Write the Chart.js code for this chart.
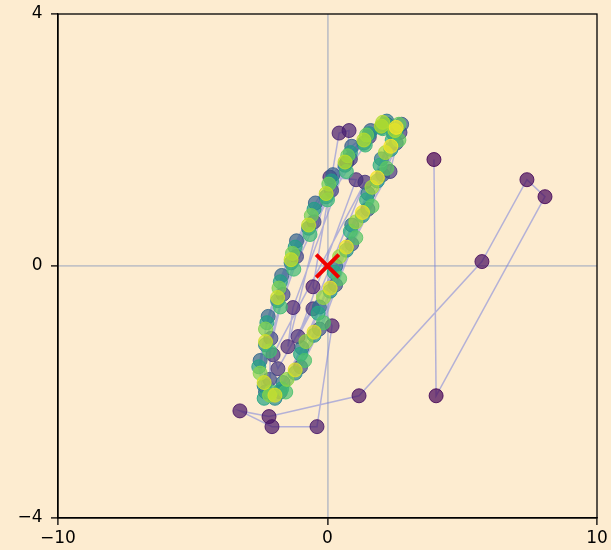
<!DOCTYPE html>
<html>
<head>
<meta charset="utf-8">
<script src="https://cdn.jsdelivr.net/npm/chart.js@4.4.0/dist/chart.umd.min.js"></script>
<style>
  html, body { margin: 0; padding: 0; background: #fdecd0; }
  #wrap { width: 611px; height: 550px; }
</style>
</head>
<body>
<div id="wrap"><canvas id="phaseChart"></canvas></div>
<script>
// first samples, before the orbit settles
const transientX = [3.95, 4.03, 8.07, 7.40, 5.73, 1.17, -2.17, -3.25, -2.06, -0.39, 0.17, -0.54, 0.43,
    0.80, 0.72, -1.28, -1.47, 0.09, 1.06, -1.09, -0.54, 1.39, -2.02, -1.84, 2.32, 2.69];
const transientY = [1.69, -2.06, 1.10, 1.37, 0.07, -2.06, -2.39, -2.30, -2.55, -2.55, -0.95, -0.33, 2.11,
    2.15, 1.65, -0.66, -1.28, 1.41, 1.37, -1.12, -0.68, 1.33, -1.41, -1.63, 1.50, 2.12];

// later samples, going round the closed orbit
const cycleX = [
    2.2, 1.55, 0.85, 0.15, -0.5, -1.15, -1.65, -2.1, -2.15, -1.75, -1.0, -0.3, 0.3, 0.9, 1.5, 2.05, 2.55, 2.75,
    1.6, 0.9, 0.2, -0.45, -1.15, -1.7, -2.2, -2.5, -2.3, -1.65, -0.95, -0.3, 0.3, 0.9, 1.5, 2.0, 2.45, 2.2,
    2.0, 1.35, 0.65, -0.05, -0.7, -1.35, -1.85, -2.3, -2.35, -1.95, -1.2, -0.5, 0.1, 0.7, 1.3, 1.85, 2.35, 2.55,
    1.55, 0.85, 0.15, -0.5, -1.2, -1.75, -2.25, -2.55, -2.35, -1.7, -1.0, -0.35, 0.25, 0.85, 1.45, 1.95, 2.4, 2.15,
    2.05, 1.4, 0.7, 0.0, -0.65, -1.25, -1.75, -2.15, -2.1, -1.55, -0.85, -0.15, 0.45, 1.05, 1.65, 2.2, 2.65, 2.65,
    1.45, 0.75, 0.05, -0.6, -1.3, -1.8, -2.3, -2.5, -2.15, -1.5, -0.8, -0.15, 0.45, 1.05, 1.65, 2.15, 2.5, 2.05,
    2.0, 1.35, 0.65, -0.05, -0.7, -1.35, -1.85, -2.3, -2.35, -1.95, -1.2, -0.5, 0.1, 0.7, 1.3, 1.85, 2.35, 2.55
];
const cycleY = [
    2.25, 2.05, 1.7, 1.2, 0.7, 0.15, -0.45, -1.15, -1.8, -2.0, -1.6, -1.0, -0.3, 0.35, 0.9, 1.45, 1.95, 2.25,
    2.15, 1.9, 1.45, 1.0, 0.4, -0.15, -0.8, -1.5, -2.0, -1.85, -1.3, -0.65, 0.0, 0.65, 1.15, 1.7, 2.1, 2.3,
    2.2, 1.95, 1.6, 1.1, 0.6, 0.05, -0.55, -1.25, -1.9, -2.1, -1.7, -1.1, -0.4, 0.25, 0.8, 1.35, 1.85, 2.15,
    2.1, 1.8, 1.35, 0.9, 0.3, -0.25, -0.9, -1.6, -2.1, -1.95, -1.4, -0.75, -0.1, 0.55, 1.05, 1.6, 2.0, 2.25,
    2.18, 1.92, 1.5, 1.05, 0.5, -0.05, -0.65, -1.35, -2.0, -2.0, -1.5, -0.9, -0.2, 0.45, 0.95, 1.55, 2.0, 2.25,
    2.08, 1.75, 1.3, 0.8, 0.2, -0.35, -1.0, -1.7, -2.05, -1.8, -1.2, -0.5, 0.15, 0.7, 1.25, 1.8, 2.15, 2.28,
    2.22, 2.0, 1.65, 1.15, 0.65, 0.1, -0.5, -1.2, -1.85, -2.05, -1.65, -1.05, -0.35, 0.3, 0.85, 1.4, 1.9, 2.2
];

// fixed point marked with the red cross
const markerX = [0];
const markerY = [0];

const xTicks = [-10, 0, 10];
const yTicks = [-4, 0, 4];

const bgColor = '#fdecd0';
const gridColor = 'rgba(195, 195, 198, 1)';

// viridis stops for colouring samples by time
const viridis = ['#440154', '#482475', '#414487', '#355f8d', '#2a788e', '#21918c',
    '#22a884', '#44bf70', '#7ad151', '#bddf26', '#fde725'];

function hexToRgb(h) {
    return [parseInt(h.substr(1, 2), 16), parseInt(h.substr(3, 2), 16), parseInt(h.substr(5, 2), 16)];
}

function viridisAt(t, alpha) {
    const pos = Math.min(Math.max(t, 0), 1) * (viridis.length - 1);
    const i = Math.min(Math.floor(pos), viridis.length - 2);
    const f = pos - i;
    const a = hexToRgb(viridis[i]), b = hexToRgb(viridis[i + 1]);
    const c = a.map((v, k) => Math.round(v + (b[k] - v) * f));
    return `rgba(${c[0]}, ${c[1]}, ${c[2]}, ${alpha})`;
}

const allX = transientX.concat(cycleX);
const allY = transientY.concat(cycleY);
const samples = allX.map((x, i) => ({ x: x, y: allY[i] }));
const n = samples.length;
const fillColors = samples.map((p, i) => viridisAt(i / (n - 1), 0.7));
const edgeColors = samples.map((p, i) => viridisAt(i / (n - 1), 0.85));

const canvasBg = {
    id: 'canvasBg',
    beforeDraw(chart) {
        const ctx = chart.ctx;
        ctx.save();
        ctx.fillStyle = bgColor;
        ctx.fillRect(0, 0, chart.width, chart.height);
        ctx.restore();
    }
};

// matplotlib-style box: top and right spines too
const frameBox = {
    id: 'frameBox',
    afterDraw(chart) {
        const { ctx, chartArea: a } = chart;
        ctx.save();
        ctx.strokeStyle = '#000';
        ctx.lineWidth = 1.3;
        ctx.strokeRect(a.left, a.top, a.right - a.left, a.bottom - a.top);
        ctx.restore();
    }
};

function minusSign(v) {
    return String(v).replace('-', '\u2212');
}

function axisOptions(ticks, min, max) {
    return {
        type: 'linear',
        min: min,
        max: max,
        afterBuildTicks: function (scale) {
            scale.ticks = ticks.map(v => ({ value: v }));
        },
        grid: {
            color: ctx => (ctx.tick && ctx.tick.value === 0) ? gridColor : 'rgba(0,0,0,0)',
            lineWidth: 1.8,
            tickColor: '#000',
            tickLength: 7,
            tickWidth: 1.3
        },
        border: { display: true, color: '#000', width: 1.3 },
        ticks: {
            color: '#000',
            font: { family: 'DejaVu Sans', size: 17 },
            padding: 3,
            autoSkip: false,
            maxRotation: 0,
            callback: minusSign
        }
    };
}

const xAxis = axisOptions(xTicks, -10, 10);
xAxis.afterFit = function (scale) { scale.height = 32; };
const yAxis = axisOptions(yTicks, -4, 4);
yAxis.afterFit = function (scale) { scale.width = 58; };
// trailing space keeps the labels clear of the tick marks
yAxis.ticks.callback = v => minusSign(v) + ' ';

const ctx = document.getElementById('phaseChart').getContext('2d');
new Chart(ctx, {
    type: 'scatter',
    data: {
        datasets: [
            {
                label: 'fixed point',
                data: markerX.map((x, i) => ({ x: x, y: markerY[i] })),
                pointStyle: 'crossRot',
                pointRadius: 16,
                borderColor: 'rgb(240, 0, 0)',
                borderWidth: 4,
                order: 0
            },
            {
                label: 'samples',
                data: samples,
                pointRadius: 7,
                backgroundColor: fillColors,
                borderColor: edgeColors,
                borderWidth: 1,
                order: 1
            },
            {
                label: 'path',
                data: samples,
                showLine: true,
                pointRadius: 0,
                borderColor: 'rgba(120, 130, 220, 0.55)',
                borderWidth: 1.5,
                order: 2
            }
        ]
    },
    options: {
        responsive: true,
        maintainAspectRatio: false,
        animation: false,
        layout: { autoPadding: false, padding: { top: 14, right: 14, left: 0, bottom: 0 } },
        plugins: {
            legend: { display: false },
            tooltip: { enabled: false }
        },
        scales: { x: xAxis, y: yAxis }
    },
    plugins: [canvasBg, frameBox]
});
</script>
</body>
</html>
